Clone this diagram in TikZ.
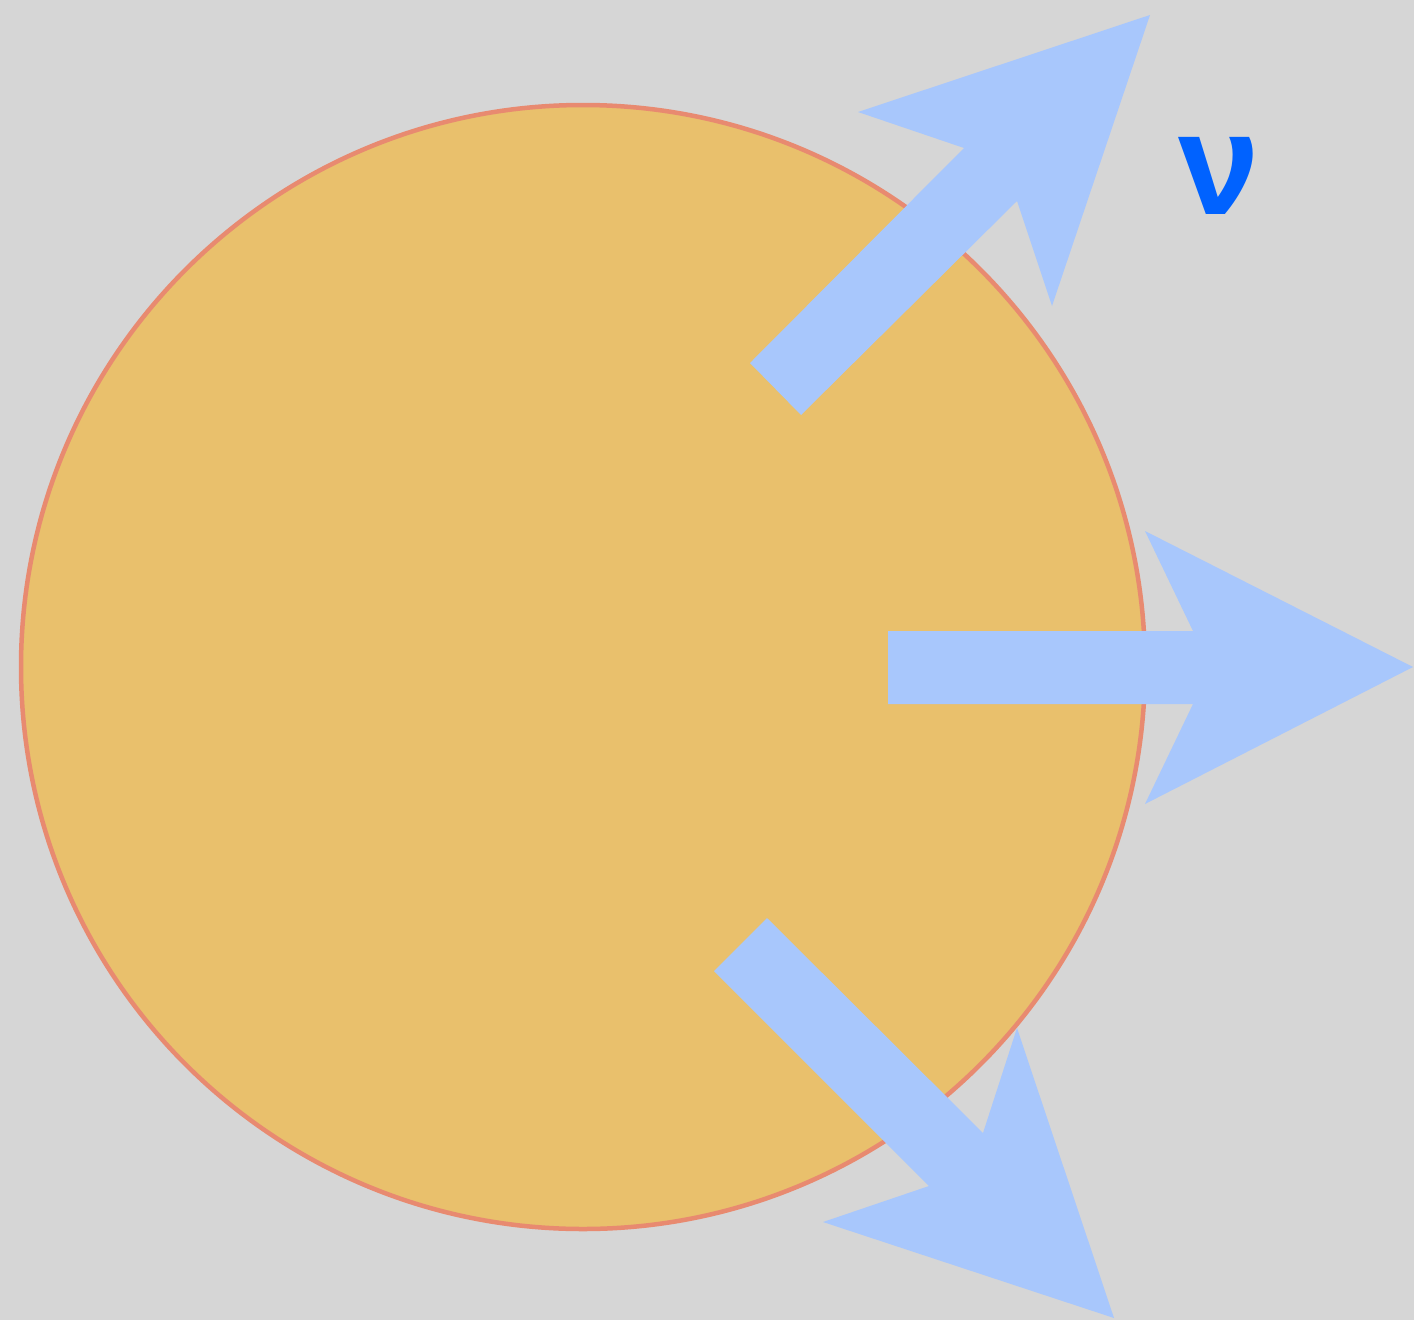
\documentclass[tikz,border=0pt]{standalone}
\usepackage{fontspec}
\newfontfamily\nufont{Liberation Sans}
\definecolor{bg}{HTML}{D6D6D6}
\definecolor{ballfill}{HTML}{E9C06C}
\definecolor{ballline}{HTML}{E88A70}
\definecolor{arrowblue}{HTML}{A8C7FC}
\definecolor{nublue}{HTML}{0062FF}
\begin{document}
\begin{tikzpicture}[x=1pt,y=-1pt,
  ballstyle/.style={fill=ballfill,draw=ballline,line width=4.5pt},
  arrowstyle/.style={fill=arrowblue,draw=none}]
\fill[bg] (0,0) rectangle (1414,1320);
\useasboundingbox (0,0) rectangle (1414,1320);
% ball
\coordinate (c) at (583,667);
\draw[ballstyle] (c) circle[radius=562];
% upper arrow
\fill[arrowstyle] (750,363) -- (964,148) -- (858,112) -- (1150,15) -- (1052,306) -- (1017,201) -- (801,415) -- cycle;
% right arrow
\fill[arrowstyle] (888,631) -- (1193,631) -- (1145,531) -- (1413,667) -- (1145,804) -- (1193,704) -- (888,704) -- cycle;
% lower arrow
\fill[arrowstyle] (767,918) -- (983,1133) -- (1017,1028) -- (1114,1318) -- (823,1222) -- (929,1186) -- (714,971) -- cycle;
% label
\node[inner sep=0pt,text=nublue,font=\nufont\bfseries\fontsize{146}{146}\selectfont] (nu) at (1219,176) {ν};
\end{tikzpicture}
\end{document}
